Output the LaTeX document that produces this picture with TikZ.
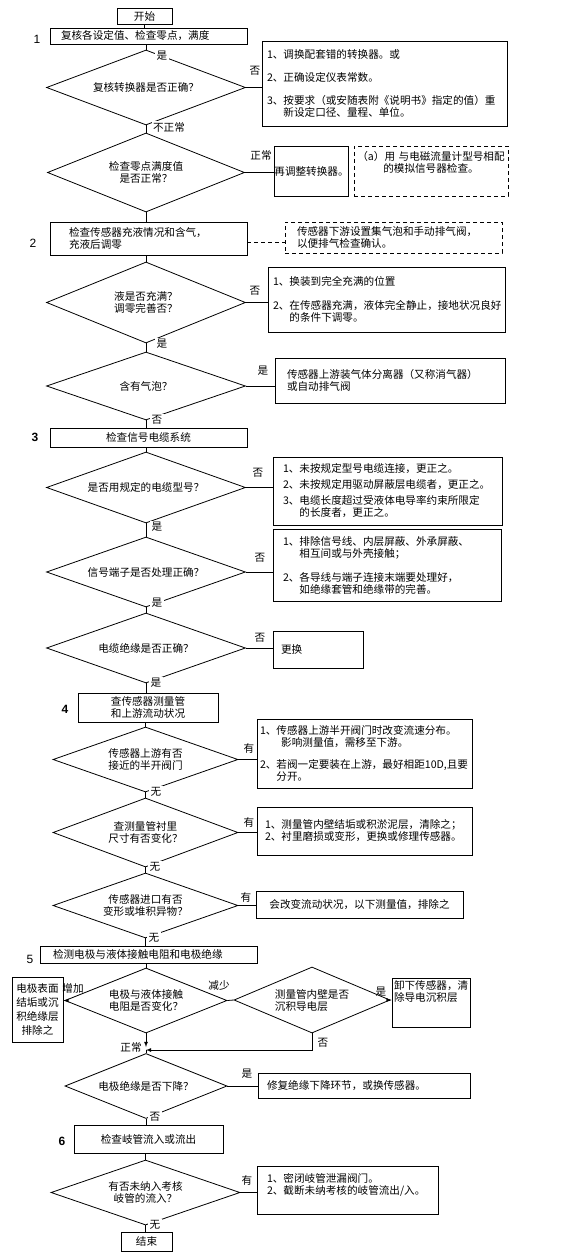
\documentclass[tikz,border=0pt]{standalone}
\usepackage{fontspec}
\setmainfont{Noto Sans CJK SC}
\newfontfamily\numfont{Liberation Sans}
\usetikzlibrary{arrows, shapes.geometric}

\newcommand\cnsize{\fontsize{10.6}{12}\selectfont}

\tikzset{
  box/.style={draw, line width=0.8pt, inner sep=2pt, align=center, font=\cnsize},
  note/.style={box, align=left},
  dnote/.style={note, dash pattern=on 4pt off 3pt},
  decision/.style={draw, line width=0.8pt, diamond, aspect=2.6, inner sep=0pt, align=center, font=\cnsize},
  lbl/.style={inner sep=0.5pt, font=\cnsize},
  albl/.style={lbl, fill=white, inner sep=1.5pt},
  num/.style={font=\numfont\fontsize{12}{14}\selectfont},
  link/.style={line width=0.8pt},
}

\begin{document}
\begin{tikzpicture}[>=latex, x=1pt, y=-1pt]

\useasboundingbox[fill=white] (0,0) rectangle (580,1260);

%section 1
\node[box, minimum width=55, minimum height=16] (start) at (144.5,16) {开始};
\node[num] (n1) at (37,39) {1};
\node[note, text width=175, inner xsep=11, minimum height=16] (b1) at (148.5,36) {复核各设定值、检查零点，满度};
\node[decision, minimum width=199, minimum height=75] (d1) at (146,87.5) {复核转换器是否正确？};
\node[note, text width=235, inner xsep=5, minimum height=85] (note1) at (384.5,83.5)
  {1、调换配套错的转换器。或\\[11pt]2、正确设定仪表常数。\\[11pt]3、按要求（或安随表附《说明书》指定的值）重\\\phantom{3、}新设定口径、量程、单位。};
\node[decision, minimum width=197, minimum height=79] (d2) at (146,172.5) {检查零点满度值\\是否正常？};
\node[box, minimum width=73, minimum height=50, inner sep=0pt] (fix1) at (311.5,171) {再调整转换器。};
\node[dnote, align=center, text width=150, inner xsep=2, minimum height=50, text depth=31] (dash1) at (431,171)
  {（a）用~与电磁流量计型号相配\\的模拟信号器检查。};

%section 2
\node[num] (n2) at (33,243) {2};
\node[note, text width=159, inner xsep=19, minimum height=33] (b2) at (148.5,238.5) {检查传感器充液情况和含气，\\充液后调零};
\node[dnote, text width=193, inner xsep=12, minimum height=31] (dash2) at (393.5,237.5)
  {传感器下游设置集气泡和手动排气阀，\\以便排气检查确认。};
\node[decision, minimum width=199, minimum height=81] (d3) at (146,302.5) {液是否充满？\\调零完善否？};
\node[note, text width=227, inner xsep=5, minimum height=65] (note3) at (386.5,299.5)
  {1、换装到完全充满的位置\\[12pt]2、在传感器充满，液体完全静止，接地状况良好\\\phantom{2、}的条件下调零。};
\node[decision, minimum width=199, minimum height=68] (d4) at (146,386) {含有气泡？};
\node[note, text width=206, inner xsep=12, minimum height=45] (note4) at (390,380.5)
  {传感器上游装气体分离器（又称消气器）\\或自动排气阀};

%section 3
\node[num, font=\numfont\bfseries\fontsize{12}{14}\selectfont] (n3) at (35,437) {3};
\node[box, minimum width=197, minimum height=19] (b3) at (148.5,437.5) {检查信号电缆系统};
\node[decision, minimum width=199, minimum height=71] (d5) at (146,487.5) {是否用规定的电缆型号？};
\node[note, text width=209, inner xsep=10, minimum height=68] (note5) at (387.5,491)
  {1、未按规定型号电缆连接，更正之。\\[4pt]2、未按规定用驱动屏蔽层电缆者，更正之。\\[4pt]3、电缆长度超过受液体电导率约束所限定\\\phantom{3、}的长度者，更正之。};
\node[decision, minimum width=199, minimum height=70] (d6) at (146,572) {信号端子是否处理正确？};
\node[note, text width=208, inner xsep=10, minimum height=72] (note6) at (387,565)
  {1、排除信号线、内层屏蔽、外承屏蔽、\\\phantom{1、}相互间或与外壳接触；\\[12pt]2、各导线与端子连接末端要处理好，\\\phantom{2、}如绝缘套管和绝缘带的完善。};
\node[decision, minimum width=199, minimum height=70] (d7) at (146,648) {电缆绝缘是否正确？};
\node[note, text width=74, inner xsep=8, minimum height=37] (fix7) at (318,649.5) {更换};

%section 4
\node[num, font=\numfont\bfseries\fontsize{12}{14}\selectfont] (n4) at (65,709) {4};
\node[box, minimum width=140, minimum height=29] (b4) at (148,707.5) {查传感器测量管\\和上游流动状况};
\node[decision, minimum width=185, minimum height=65] (d8) at (145.5,759.5) {传感器上游有否\\接近的半开阀门};
\node[note, text width=209, inner xsep=3, minimum height=69] (note8) at (364.5,753.5)
  {1、传感器上游半开阀门时改变流速分布。\\\hspace*{2em}影响测量值，需移至下游。\\[10pt]2、若阀一定要装在上游，最好相距10D,且要\\\phantom{2、}分开。};
\node[decision, minimum width=185, minimum height=69] (d9) at (145.5,832.5) {查测量管衬里\\尺寸有否变化？};
\node[note, text width=199, inner xsep=8, minimum height=48] (note9) at (364.5,831)
  {1、测量管内壁结垢或积淤泥层，清除之；\\2、衬里磨损或变形，更换或修理传感器。};
\node[decision, minimum width=185, minimum height=65] (d10) at (145.5,905.5) {传感器进口有否\\变形或堆积异物？};
\node[box, minimum width=207, minimum height=27] (fix10) at (359.5,904.5) {会改变流动状况，以下测量值，排除之};

%section 5
\node[num] (n5) at (30,959) {5};
\node[note, text width=191, inner xsep=13, minimum height=17] (b5) at (148.5,954.5) {检测电极与液体接触电阻和电极绝缘};
\node[decision, minimum width=162, minimum height=65] (d11) at (146,1000.5) {电极与液体接触\\电阻是否变化？};
\node[box, minimum width=51, minimum height=65, inner sep=1pt] (lbox) at (37.5,1009.5) {电极表面\\[2pt]结垢或沉\\[2pt]积绝缘层\\[2pt]排除之};
\node[decision, align=left, minimum width=156, minimum height=66] (d12) at (312,1000) {测量管内壁是否\\沉积导电层};
\node[note, text width=74, inner xsep=2, minimum height=49, text depth=34] (rbox) at (431,1002.5) {卸下传感器，清\\除导电沉积层};
\coordinate (j5) at (146,1050);
\node[decision, minimum width=162, minimum height=65] (d13) at (146,1086) {电极绝缘是否下降？};
\node[note, text width=194, inner xsep=9, minimum height=25] (fix13) at (364,1085.5) {修复绝缘下降环节，或换传感器。};

%section 6
\node[num, font=\numfont\bfseries\fontsize{12}{14}\selectfont] (n6) at (62,1141) {6};
\node[box, minimum width=149, minimum height=28] (b6) at (148.5,1139) {检查岐管流入或流出};
\node[decision, minimum width=189, minimum height=65] (d14) at (145.5,1192.5) {有否未纳入考核\\岐管的流入？};
\node[note, text width=161, inner xsep=10, minimum height=48, text depth=25] (note14) at (347.5,1190)
  {1、密闭岐管泄漏阀门。\\2、截断未纳考核的岐管流出/入。};
\node[box, minimum width=51, minimum height=19] (end) at (146.5,1241.5) {结束};

%connectors
\draw[link] (start) -- (start |- b1.north);
\draw[link] (d1.north |- b1.south) -- (d1.north);
\draw[link] (d1.east) -- (d1.east -| note1.west);
\draw[link] (d1.south) -- (d2.north);
\draw[link] (d2.east) -- (d2.east -| fix1.west);
\draw[link] (d2.south) -- (d2.south |- b2.north);
\draw[link, dash pattern=on 4pt off 3pt] (b2.east |- 0,242) -- (dash2.west |- 0,242);
\draw[link] (d3.north |- b2.south) -- (d3.north);
\draw[link] (d3.east) -- (d3.east -| note3.west);
\draw[link] (d3.south) -- (d4.north);
\draw[link] (d4.east) -- (d4.east -| note4.west);
\draw[link] (d4.south) -- (d4.south |- b3.north);
\draw[link] (d5.north |- b3.south) -- (d5.north);
\draw[link] (d5.east) -- (d5.east -| note5.west);
\draw[link] (d5.south) -- (d6.north);
\draw[link] (d6.east) -- (d6.east -| note6.west);
\draw[link] (d6.south) -- (d7.north);
\draw[link] (d7.east) -- (d7.east -| fix7.west);
\draw[link] (d7.south) -- (d7.south |- b4.north);
\draw[link] (d8.north |- b4.south) -- (d8.north);
\draw[link] (d8.east) -- (d8.east -| note8.west);
\draw[link] (d8.south) -- (d9.north);
\draw[link] (d9.east) -- (d9.east -| note9.west);
\draw[link] (d9.south) -- (d10.north);
\draw[link] (d10.east) -- (d10.east -| fix10.west);
\draw[link] (d10.south) -- (d10.south |- b5.north);
\draw[link] (d11.north |- b5.south) -- (d11.north);
\draw[link, ->] (d11.west) -- (d11.west -| lbox.east);
\draw[link] (d11.east) -- (d12.west);
\draw[link, ->] (d12.east) -- (d12.east -| rbox.west);
\draw[link, ->] (d12.south) |- (j5);
\draw[link, ->] (d11.south) -- ([yshift=3pt]j5);
\draw[link] (j5) -- (d13.north);
\draw[link] (d13.east) -- (d13.east -| fix13.west);
\draw[link] (d13.south) -- (d13.south |- b6.north);
\draw[link] (d14.north |- b6.south) -- (d14.north);
\draw[link] (d14.east) -- (d14.east -| note14.west);
\draw[link] (d14.south) -- (d14.south |- end.north);

%labels
\node[albl] (y1) at (162,56) {是};
\node[lbl] (n1a) at (255,71) {否};
\node[albl] (a1) at (169,127) {不正常};
\node[lbl] (a2) at (261,155) {正常};
\node[lbl] (n3a) at (255,291) {否};
\node[albl] (y3) at (162,344) {是};
\node[lbl] (y4) at (263,371) {是};
\node[albl] (n4a) at (157,420) {否};
\node[lbl] (n5a) at (258,473) {否};
\node[albl] (y5) at (157,527) {是};
\node[lbl] (n6a) at (260,558) {否};
\node[albl] (y6) at (157,603) {是};
\node[lbl] (n7a) at (260,638) {否};
\node[albl] (y7) at (156,683) {是};
\node[lbl] (h8) at (249,748) {有};
\node[albl] (w8) at (156,792) {无};
\node[lbl] (h9) at (249,822) {有};
\node[albl] (w9) at (155,867) {无};
\node[lbl] (h10) at (246,897) {有};
\node[albl] (w10) at (154,938) {无};
\node[lbl] (up11) at (73,988) {增加};
\node[lbl] (dn11) at (219,985) {减少};
\node[lbl] (y12) at (381,992) {是};
\node[lbl] (n12) at (323,1043) {否};
\node[lbl] (ok5) at (131,1047) {正常};
\node[lbl] (y13) at (247,1074) {是};
\node[albl] (n13) at (155,1117) {否};
\node[lbl] (h14) at (247,1180) {有};
\node[albl] (w14) at (155,1225) {无};

\end{tikzpicture}
\end{document}
